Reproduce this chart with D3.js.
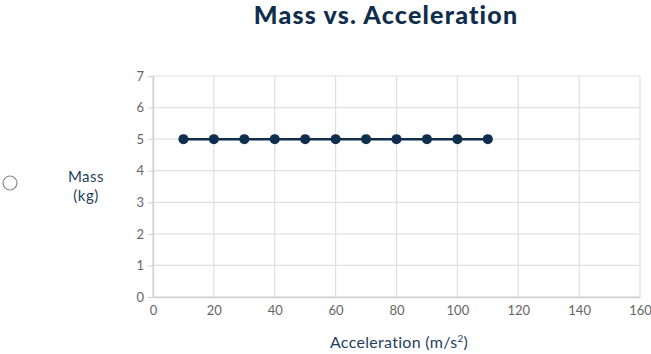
<!DOCTYPE html>
<html>
<head>
<meta charset="utf-8">
<script src="https://cdn.jsdelivr.net/npm/d3@7"></script>
<style>
  body { margin: 0; background: #fff; }
  svg { display: block; }
</style>
</head>
<body>
<div id="chart"></div>
<script>
// data
const acceleration = [10, 20, 30, 40, 50, 60, 70, 80, 90, 100, 110];
const mass = [5, 5, 5, 5, 5, 5, 5, 5, 5, 5, 5];
const xTicks = [0, 20, 40, 60, 80, 100, 120, 140, 160];
const yTicks = [0, 1, 2, 3, 4, 5, 6, 7];

const width = 651, height = 354;
const font = "Lato, 'Open Sans', sans-serif";
const navy = "#0f2d4d";

const svg = d3.select("#chart").append("svg")
  .attr("width", width)
  .attr("height", height);

const x = d3.scaleLinear().domain([0, 160]).range([153, 640]);
const y = d3.scaleLinear().domain([0, 7]).range([297, 76]);

// grid
svg.append("g")
  .selectAll("line.vgrid")
  .data(xTicks)
  .join("line")
  .attr("x1", d => x(d)).attr("x2", d => x(d))
  .attr("y1", y(7)).attr("y2", y(0))
  .attr("stroke", "#e0e0e0")
  .attr("stroke-width", 1.2);

svg.append("g")
  .selectAll("line.hgrid")
  .data(yTicks)
  .join("line")
  .attr("x1", x(0)).attr("x2", x(160))
  .attr("y1", d => y(d)).attr("y2", d => y(d))
  .attr("stroke", "#e0e0e0")
  .attr("stroke-width", 1.2);

// axes
const yAxis = svg.append("g")
  .attr("transform", `translate(${x(0)},0)`)
  .call(d3.axisLeft(y).tickValues(yTicks).tickFormat(d3.format("d"))
    .tickSize(5).tickPadding(4).tickSizeOuter(0));
const xAxis = svg.append("g")
  .attr("transform", `translate(0,${y(0)})`)
  .call(d3.axisBottom(x).tickValues(xTicks).tickSize(0).tickPadding(9).tickSizeOuter(0));

[yAxis, xAxis].forEach(a => {
  a.select(".domain").attr("stroke", "#d0d0d0").attr("stroke-width", 1.4);
  a.selectAll(".tick line").attr("stroke", "#d0d0d0");
  a.selectAll(".tick text")
    .attr("fill", "#666")
    .style("font-family", font)
    .style("font-size", "13px");
});

// line + dots
const line = d3.line()
  .x((d, i) => x(acceleration[i]))
  .y(d => y(d));

svg.append("path")
  .datum(mass)
  .attr("d", line)
  .attr("fill", "none")
  .attr("stroke", navy)
  .attr("stroke-width", 2.5);

svg.append("g")
  .selectAll("circle")
  .data(mass)
  .join("circle")
  .attr("cx", (d, i) => x(acceleration[i]))
  .attr("cy", d => y(d))
  .attr("r", 5)
  .attr("fill", navy);

// title
svg.append("text")
  .attr("x", 386)
  .attr("y", 24)
  .attr("text-anchor", "middle")
  .style("font-family", font)
  .style("font-size", "25px")
  .style("font-weight", 900)
  .style("letter-spacing", "1.2px")
  .attr("fill", navy)
  .text("Mass vs. Acceleration");

// y label
const yl = svg.append("text")
  .attr("text-anchor", "middle")
  .style("font-family", font)
  .style("font-size", "15px")
  .style("letter-spacing", "0.5px")
  .attr("fill", "#1f3f60");
yl.append("tspan").attr("x", 86).attr("y", 182).text("Mass");
yl.append("tspan").attr("x", 86).attr("y", 201).text("(kg)");

// radio circle
svg.append("circle")
  .attr("cx", 10)
  .attr("cy", 183)
  .attr("r", 7)
  .attr("fill", "#fff")
  .attr("stroke", "#888")
  .attr("stroke-width", 1.2);

// x label
const xl = svg.append("text")
  .attr("x", 399)
  .attr("y", 348)
  .attr("text-anchor", "middle")
  .style("font-family", font)
  .style("font-size", "16px")
  .style("letter-spacing", "0.3px")
  .attr("fill", "#1f3f60")
  .text("Acceleration (m/s");
xl.append("tspan").attr("dy", -6).style("font-size", "10px").text("2");
xl.append("tspan").attr("dy", 6).text(")");
</script>
</body>
</html>
